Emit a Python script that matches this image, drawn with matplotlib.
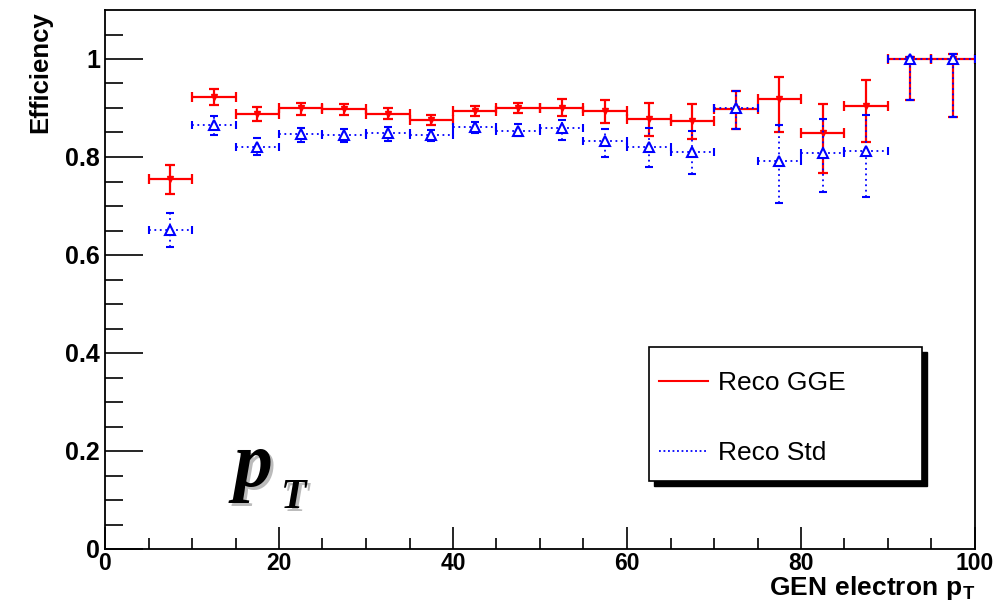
import numpy as np
import matplotlib
matplotlib.use("Agg")
import matplotlib.pyplot as plt
from matplotlib.lines import Line2D
from matplotlib.patches import Rectangle

plt.rcParams["font.family"] = ["Liberation Sans", "DejaVu Sans"]
plt.rcParams["mathtext.fontset"] = "custom"
plt.rcParams["mathtext.bf"] = "Liberation Sans:bold"
plt.rcParams["mathtext.rm"] = "Liberation Sans"

# bins of GEN electron pT (5 GeV wide)
pt_centers = [7.5, 12.5, 17.5, 22.5, 27.5, 32.5, 37.5, 42.5, 47.5, 52.5,
              57.5, 62.5, 67.5, 72.5, 77.5, 82.5, 87.5, 92.5, 97.5]
pt_halfwidth = [2.5] * len(pt_centers)

# Reco GGE
eff_gge = [0.755, 0.922, 0.888, 0.899, 0.897, 0.888, 0.876, 0.893, 0.900, 0.900,
           0.893, 0.877, 0.874, 0.898, 0.918, 0.848, 0.905, 1.000, 1.000]
err_gge_lo = [0.030, 0.016, 0.015, 0.014, 0.012, 0.011, 0.010, 0.009, 0.010, 0.017,
              0.024, 0.035, 0.038, 0.040, 0.068, 0.080, 0.075, 0.083, 0.118]
err_gge_hi = [0.028, 0.017, 0.015, 0.012, 0.012, 0.011, 0.009, 0.012, 0.011, 0.018,
              0.024, 0.034, 0.034, 0.036, 0.046, 0.060, 0.053, 0.005, 0.010]

# Reco Std
eff_std = [0.651, 0.866, 0.820, 0.847, 0.845, 0.849, 0.845, 0.862, 0.853, 0.859,
           0.833, 0.821, 0.811, 0.901, 0.791, 0.808, 0.812, 1.000, 1.000]
err_std_lo = [0.034, 0.021, 0.016, 0.016, 0.015, 0.016, 0.012, 0.012, 0.010, 0.025,
              0.034, 0.042, 0.045, 0.043, 0.085, 0.079, 0.093, 0.083, 0.118]
err_std_hi = [0.034, 0.017, 0.018, 0.013, 0.013, 0.013, 0.010, 0.010, 0.015, 0.016,
              0.025, 0.039, 0.042, 0.034, 0.074, 0.069, 0.073, 0.005, 0.010]

W, H = 995, 606
fig = plt.figure(figsize=(W / 100, H / 100), dpi=100)
ax = fig.add_axes([105 / W, 1 - 549 / H, 870 / W, 539 / H])

# red (GGE)
ax.errorbar(pt_centers, eff_gge, xerr=pt_halfwidth, yerr=[err_gge_lo, err_gge_hi],
            fmt="v", color="red", ms=5, lw=1.6, capsize=3.5, capthick=1.6,
            zorder=2)

# blue (Std), dotted errors
eb = ax.errorbar(pt_centers, eff_std, xerr=pt_halfwidth, yerr=[err_std_lo, err_std_hi],
                 fmt="^", color="blue", mfc="white", mec="blue", mew=1.5, ms=7,
                 lw=1.3, capsize=3, capthick=1.2, zorder=3)
for lc in eb[2]:
    lc.set_linestyle((0, (1, 2)))

ax.set_xlim(0, 100)
ax.set_ylim(0, 1.1)
ax.set_xticks(np.arange(0, 101, 20))
ax.set_xticks(np.arange(0, 101, 5), minor=True)
ax.set_yticks(np.arange(0, 1.01, 0.2))
ax.set_yticks(np.arange(0, 1.1, 0.05), minor=True)
ax.set_yticklabels(["0", "0.2", "0.4", "0.6", "0.8", "1"])
ax.tick_params(which="both", direction="in", top=False, right=False, width=1.2)
ax.tick_params(axis="y", which="major", length=27, labelsize=18, pad=3.5)
ax.tick_params(axis="y", which="minor", length=13)
ax.tick_params(axis="x", which="major", length=16, labelsize=16.5, pad=2.5)
ax.tick_params(axis="x", which="minor", length=8)
for lab in ax.get_xticklabels() + ax.get_yticklabels():
    lab.set_fontweight("bold")
for sp in ax.spines.values():
    sp.set_linewidth(1.3)

# axis titles (ROOT style, aligned to the axis ends)
fig.text(40 / W, 1 - 11 / H, "Efficiency", rotation=90, ha="center", va="top",
         fontsize=18.5, fontweight="bold")
fig.text(975 / W, 1 - 595 / H, r"$\mathbf{GEN\ electron\ p_{T}}$", ha="right",
         va="baseline", fontsize=19)

# legend box with shadow
fig.patches.append(Rectangle((654 / W, 1 - 486 / H), 273 / W, 134 / H,
                             transform=fig.transFigure, color="black", zorder=5))
fig.patches.append(Rectangle((649 / W, 1 - 481 / H), 273 / W, 134 / H,
                             transform=fig.transFigure, facecolor="white",
                             edgecolor="black", lw=1.2, zorder=6))
handles = [Line2D([], [], color="red", lw=1.5),
           Line2D([], [], color="blue", lw=1.3, ls=(0, (1, 1.5)))]
leg = fig.legend(handles, ["Reco GGE", "Reco Std"], loc="upper left",
                 bbox_to_anchor=(659 / W, 1 - 371 / H), frameon=False,
                 fontsize=19, handlelength=1.86, handletextpad=0.38,
                 labelspacing=1.75, borderpad=0, borderaxespad=0)
leg.set_zorder(7)

# big p_T label with grey shadow
for dx, dy, col in [(3, 3, "#bbbbbb"), (0, 0, "black")]:
    fig.text((234 + dx) / W, 1 - (486 + dy) / H, "p", fontsize=56,
             family="Liberation Serif", fontweight="bold", style="italic",
             color=col, va="baseline")
    fig.text((281 + dx) / W, 1 - (508 + dy) / H, "T", fontsize=30,
             family="Liberation Serif", fontweight="bold", style="italic",
             color=col, va="baseline")

fig.savefig("out.png", dpi=100)
